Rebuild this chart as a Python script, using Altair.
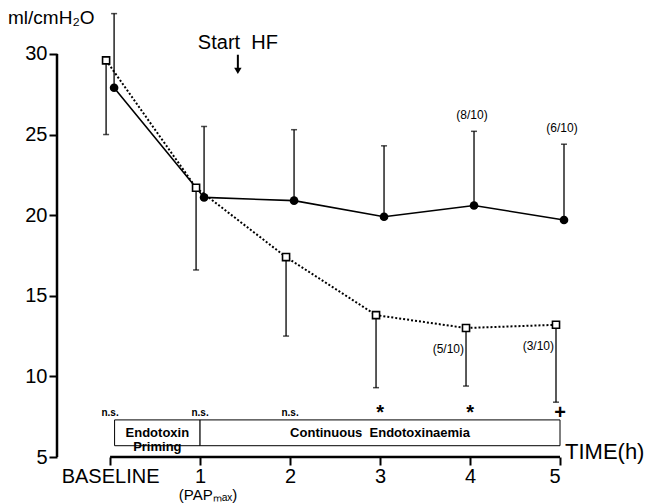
import altair as alt
import pandas as pd

# ---- data ----
times = [0, 1, 2, 3, 4, 5]
hf_mean = [27.9, 21.1, 20.9, 19.9, 20.6, 19.7]        # filled circles, solid line
hf_upper = [32.5, 25.5, 25.3, 24.3, 25.2, 24.4]       # upper end of error bar
ctrl_mean = [29.6, 21.7, 17.4, 13.8, 13.0, 13.2]      # open squares, dotted line
ctrl_lower = [25.0, 16.6, 12.5, 9.3, 9.4, 8.4]        # lower end of error bar
sig_labels = ["n.s.", "n.s.", "n.s.", "*", "*", "+"]
hf_fraction = ["", "", "", "", "(8/10)", "(6/10)"]
ctrl_fraction = ["", "", "", "", "(5/10)", "(3/10)"]
phase_start = [0.05, 1]
phase_end = [1, 5]
phase_label = ["Endotoxin\nPriming", "Continuous\u00a0\u00a0Endotoxinaemia"]
x_ticks = [0, 1, 2, 3, 4, 5]
y_ticks = [5, 10, 15, 20, 25, 30]
hf_start_time = 1.42

FONT = "Liberation Sans"

df = pd.DataFrame({
    "t": times, "hf": hf_mean, "hf_hi": hf_upper,
    "ctrl": ctrl_mean, "ctrl_lo": ctrl_lower,
    "sig": sig_labels, "hf_frac": hf_fraction, "ctrl_frac": ctrl_fraction,
})
phases = pd.DataFrame({"s": phase_start, "e": phase_end, "label": phase_label})

xs = alt.Scale(domain=[-0.59, 5.0], nice=False, zero=False)
ys = alt.Scale(domain=[5, 32.6], nice=False, zero=False)

x_axis = alt.Axis(values=x_ticks, labelExpr="datum.value == 0 ? 'BASELINE' : datum.label",
                  domain=False, grid=False, tickSize=8, tickWidth=2, tickColor="black",
                  labelFontSize=20, labelFont=FONT, labelColor="black", labelPadding=1, title=None)
y_axis = alt.Axis(values=y_ticks, domain=False, grid=False, tickSize=8, tickWidth=2,
                  tickColor="black", labelFontSize=20, labelFont=FONT, labelColor="black",
                  labelPadding=2, title=None)


def XQ(field):
    return alt.X(field, scale=xs, axis=x_axis)


def YQ(field):
    return alt.Y(field, scale=ys, axis=y_axis)


base = alt.Chart(df)
one = pd.DataFrame({"t": [hf_start_time]})

# axis lines
x_line = alt.Chart(one).mark_rule(strokeWidth=2.5, color="black").encode(
    x=XQ("x0:Q"), x2="x1:Q", y=YQ("y5:Q")
).transform_calculate(x0="0", x1="5", y5="5")
y_line = alt.Chart(one).mark_rule(strokeWidth=2.5, color="black").encode(
    x=alt.value(0), y=YQ("lo:Q"), y2="hi:Q"
).transform_calculate(lo="5", hi="30")

# error bars
hf_err = base.mark_rule(color="black", strokeWidth=1.3, xOffset=4).encode(
    x=XQ("t:Q"), y=YQ("hf:Q"), y2="hf_hi:Q")
hf_cap = base.mark_tick(color="black", thickness=1.5, size=6, orient="horizontal", xOffset=4).encode(
    x=XQ("t:Q"), y=YQ("hf_hi:Q"))
ctrl_err = base.mark_rule(color="black", strokeWidth=1.3, xOffset=-4).encode(
    x=XQ("t:Q"), y=YQ("ctrl:Q"), y2="ctrl_lo:Q")
ctrl_cap = base.mark_tick(color="black", thickness=1.5, size=6, orient="horizontal", xOffset=-4).encode(
    x=XQ("t:Q"), y=YQ("ctrl_lo:Q"))

# lines and markers
hf_line = base.mark_line(color="black", strokeWidth=1.6, xOffset=4).encode(
    x=XQ("t:Q"), y=YQ("hf:Q"))
ctrl_line = base.mark_line(color="black", strokeWidth=2, strokeDash=[2, 2], xOffset=-4).encode(
    x=XQ("t:Q"), y=YQ("ctrl:Q"))
hf_pts = base.mark_point(shape="circle", filled=True, color="black", size=75, opacity=1, xOffset=4).encode(
    x=XQ("t:Q"), y=YQ("hf:Q"))
ctrl_pts = base.mark_point(shape="square", filled=True, fill="white", stroke="black", strokeWidth=1.6,
                           size=50, opacity=1, xOffset=-4).encode(
    x=XQ("t:Q"), y=YQ("ctrl:Q"))

# fraction annotations
hf_frac = base.mark_text(font=FONT, fontSize=12, color="black", xOffset=2, dy=-16).encode(
    x=XQ("t:Q"), y=YQ("hf_hi:Q"), text="hf_frac:N")
ctrl_frac = base.mark_text(font=FONT, fontSize=12, color="black", align="right", xOffset=-6, dy=21).encode(
    x=XQ("t:Q"), y=YQ("ctrl:Q"), text="ctrl_frac:N")

# significance labels
ns = base.transform_filter("datum.sig == 'n.s.'").transform_calculate(sy="7.55").mark_text(
    font=FONT, fontSize=10, fontWeight="bold", color="black", baseline="alphabetic").encode(
    x=XQ("t:Q"), y=YQ("sy:Q"), text="sig:N")
star = base.transform_filter("datum.sig != 'n.s.'").transform_calculate(sy="7.72").mark_text(
    font=FONT, fontSize=20, fontWeight="bold", color="black", baseline="middle").encode(
    x=XQ("t:Q"), y=YQ("sy:Q"), text="sig:N")

# phase box
box = alt.Chart(phases).transform_calculate(lo="5.7", hi="7.3").mark_rect(
    fill="white", stroke="black", strokeWidth=1).encode(
    x=XQ("s:Q"), x2="e:Q", y=YQ("lo:Q"), y2="hi:Q")
box_text = alt.Chart(phases).transform_calculate(m="(datum.s + datum.e) / 2", yy="6.5").mark_text(
    font=FONT, fontSize=13, fontWeight="bold", color="black",
    lineBreak="\n", lineHeight=14, baseline="middle").encode(
    x=XQ("m:Q"), y=YQ("yy:Q"), text="label:N")

# Start HF annotation
start_txt = alt.Chart(one).transform_calculate(yy="30.7").mark_text(
    font=FONT, fontSize=20, color="black", text="Start\u00a0\u00a0HF").encode(
    x=XQ("t:Q"), y=YQ("yy:Q"))
arrow_shaft = alt.Chart(one).transform_calculate(a="29.95", b="29.05").mark_rule(
    color="black", strokeWidth=2).encode(x=XQ("t:Q"), y=YQ("a:Q"), y2="b:Q")
arrow_head = alt.Chart(one).transform_calculate(c="28.95").mark_point(
    shape="triangle-down", filled=True, color="black", size=55, opacity=1).encode(
    x=XQ("t:Q"), y=YQ("c:Q"))

# other text (placed in pixels, relative to the plot area)
unit_txt = alt.Chart(one).mark_text(font=FONT, fontSize=19, color="black", align="left",
                                    text="ml/cmH\u2082O").encode(x=alt.value(-49), y=alt.value(6))
time_txt = alt.Chart(one).mark_text(font=FONT, fontSize=22, color="black", align="left",
                                    text="TIME(h)").encode(x=alt.value(508), y=alt.value(440))
pap_txt = alt.Chart(one).mark_text(font=FONT, fontSize=15, color="black",
                                   text="(PAP\u2098\u2090\u2093)").encode(x=alt.value(151), y=alt.value(483))

chart = alt.layer(
    x_line, y_line, box, box_text,
    hf_err, hf_cap, ctrl_err, ctrl_cap,
    hf_line, ctrl_line, hf_pts, ctrl_pts,
    hf_frac, ctrl_frac, ns, star,
    start_txt, arrow_shaft, arrow_head,
    unit_txt, time_txt, pap_txt,
).properties(
    width=503, height=445,
    autosize=alt.AutoSizeParams(type="none"),
    padding={"left": 57, "top": 12, "right": 88, "bottom": 47},
    view=alt.ViewBackground(stroke="transparent", strokeWidth=0),
).configure_view(stroke="transparent", strokeWidth=0).configure(background="white")

chart.save("out.html", embed_options={"renderer": "svg", "actions": False})
